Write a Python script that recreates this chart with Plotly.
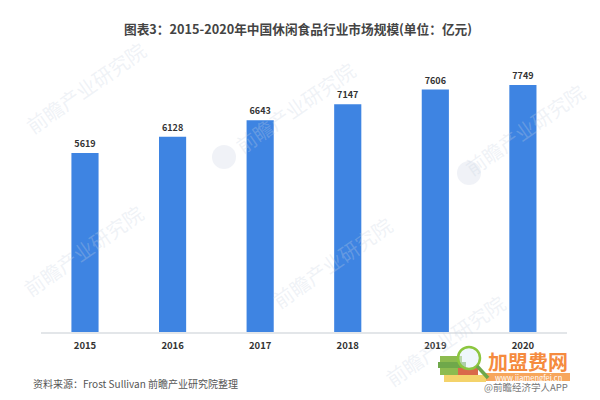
import plotly.graph_objects as go

years = ["2015", "2016", "2017", "2018", "2019", "2020"]
market_size = [5619, 6128, 6643, 7147, 7606, 7749]
title_text = "图表3：2015-2020年中国休闲食品行业市场规模(单位：亿元)"
source_text = "资料来源：Frost Sullivan 前瞻产业研究院整理"
credit_text = "@前瞻经济学人APP"
watermark_text = "前瞻产业研究院"
logo_text = "加盟费网"
logo_url = "www.jiamengfei.cn"

W, H = 600, 400
FONT = "Noto Sans CJK SC"
WM = "rgba(200,210,225,0.28)"


def fx(x):
    return x / W


def fy(y):
    return 1 - y / H


def note(x, y, text, size, color, xanchor="left", angle=0):
    return dict(x=fx(x), y=fy(y), xref="paper", yref="paper", text=text, showarrow=False,
                xanchor=xanchor, yanchor="middle", textangle=angle,
                font=dict(family=FONT, size=size, color=color))


def rect(x0, y0, x1, y1, fill):
    return dict(type="rect", xref="paper", yref="paper", x0=fx(x0), x1=fx(x1), y0=fy(y1), y1=fy(y0),
                fillcolor=fill, line_width=0)


def circle(cx, cy, r, fill, line="rgba(0,0,0,0)", lw=0):
    return dict(type="circle", xref="paper", yref="paper", x0=fx(cx - r), x1=fx(cx + r),
                y0=fy(cy + r), y1=fy(cy - r), fillcolor=fill, line=dict(color=line, width=lw))


fig = go.Figure(go.Bar(
    x=years, y=market_size, width=0.31,
    marker=dict(color="#3E84E2", line_width=0),
    text=market_size, textposition="outside", cliponaxis=False,
    textfont=dict(family=FONT, size=9, color="#333333", weight="bold"),
    hoverinfo="skip",
))

annotations = [note(wx, wy, watermark_text, 20, WM, "center", -35)
               for wx, wy in [(86, 88), (295, 107), (525, 130), (83, 250), (332, 262), (445, 340)]]
annotations += [
    note(298, 28, f"<b>{title_text}</b>", 12.7, "#444444", "center"),
    note(31, 383, source_text, 10, "#555555"),
    note(526, 387, credit_text, 9.5, "#777777", "center"),
    note(528, 361, f"<b>{logo_text}</b>", 20, "#F58B3E", "center"),
    note(528, 377, logo_url, 7.5, "#FFFFFF", "center"),
]

shapes = [
    circle(224, 157, 12, WM),
    circle(469, 173, 12, WM),
    rect(486, 373, 570, 381, "#F7A65C"),
    rect(440, 356, 462, 362, "#8DBB4F"),
    rect(438, 362, 466, 368, "#6FA84A"),
    rect(440, 368, 470, 375, "#8DBB4F"),
    rect(458, 368, 478, 375, "#D9694A"),
    rect(444, 375, 486, 382, "#F4D36B"),
    circle(469, 358, 11, "rgba(225,240,250,0.55)", "#8CC63F", 2.5),
    dict(type="line", xref="paper", yref="paper", x0=fx(477), y0=fy(366), x1=fx(488), y1=fy(378),
         line=dict(color="#6FA84A", width=3.5)),
]

fig.update_layout(
    width=W, height=H, autosize=False, showlegend=False,
    margin=dict(l=0, r=0, t=0, b=0),
    paper_bgcolor="white", plot_bgcolor="white",
    annotations=annotations, shapes=shapes,
    xaxis=dict(domain=[fx(41.2), fx(566.7)], type="category", showgrid=False, ticks="",
               showline=True, linecolor="#E3E6E9", linewidth=1.5, ticklabelstandoff=4,
               tickfont=dict(family=FONT, size=9.5, color="#333333", weight="bold")),
    yaxis=dict(domain=[fy(332), fy(60)], range=[0, 8535], visible=False),
)
fig.write_html("out.html", config={"displayModeBar": False},
               post_script="document.body.style.margin='0';")
